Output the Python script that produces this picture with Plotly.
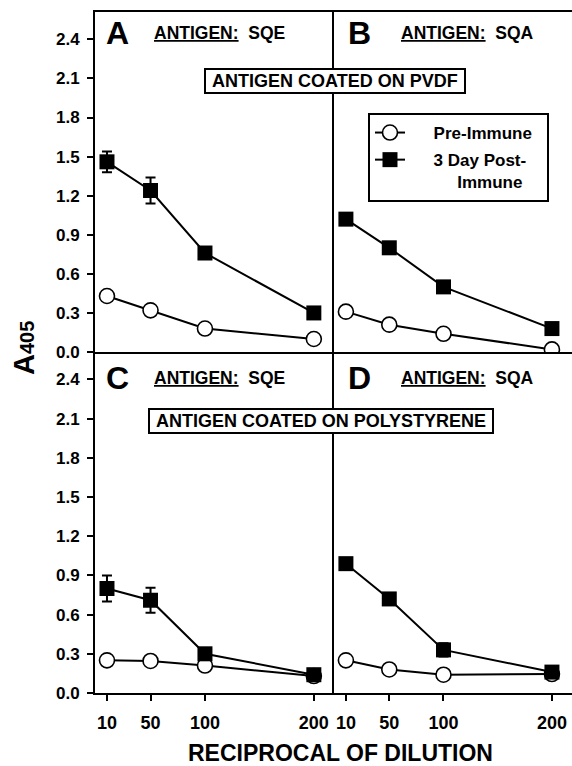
import plotly.graph_objects as go

# ---------------- data ----------------
dilutions = [10, 50, 100, 200]
tick_labels_x = ["10", "50", "100", "200"]
y_ticks = [0.0, 0.3, 0.6, 0.9, 1.2, 1.5, 1.8, 2.1, 2.4]

A_pre = [0.43, 0.32, 0.18, 0.10]
A_post = [1.46, 1.24, 0.76, 0.30]
A_post_err = [0.08, 0.10, 0.04, 0.02]

B_pre = [0.31, 0.21, 0.14, 0.02]
B_post = [1.02, 0.80, 0.50, 0.18]
B_post_err = [0.02, 0.02, 0.03, 0.02]

C_pre = [0.25, 0.245, 0.21, 0.13]
C_post = [0.80, 0.71, 0.30, 0.14]
C_post_err = [0.10, 0.095, 0.03, 0.02]

D_pre = [0.25, 0.18, 0.14, 0.145]
D_post = [0.99, 0.72, 0.33, 0.16]
D_post_err = [0.04, 0.02, 0.05, 0.02]

NB = "\u00a0"
series_pre_name = NB * 5 + "Pre-Immune" + NB * 2
series_post_name = NB * 5 + "3 Day Post-<br>" + NB * 10 + "Immune"

FONT = "Liberation Sans, Arial, Helvetica, sans-serif"

fig = go.Figure()

panels = [
    ("x", "y", A_pre, A_post, A_post_err, False),
    ("x2", "y2", B_pre, B_post, B_post_err, True),
    ("x3", "y3", C_pre, C_post, C_post_err, False),
    ("x4", "y4", D_pre, D_post, D_post_err, False),
]

for xa, ya, pre, post, err, show in panels:
    fig.add_trace(go.Scatter(
        x=dilutions, y=pre, xaxis=xa, yaxis=ya, mode="lines+markers",
        name=series_pre_name, legendgroup="pre", showlegend=show,
        line=dict(color="black", width=2),
        marker=dict(symbol="circle", size=15, color="white",
                    line=dict(color="black", width=1.6)),
    ))
    fig.add_trace(go.Scatter(
        x=dilutions, y=post, xaxis=xa, yaxis=ya, mode="lines+markers",
        name=series_post_name, legendgroup="post", showlegend=show,
        line=dict(color="black", width=2),
        marker=dict(symbol="square", size=15, color="black",
                    line=dict(color="black", width=0)),
        error_y=dict(type="data", array=err, visible=True, color="black",
                     thickness=2, width=5),
    ))

XD_L = [0, 0.501]
XD_R = [0.501, 1]
YD_T = [0.5007, 1]
YD_B = [0, 0.5007]
XR = [-1, 218.5]
YR = [0, 2.61]

base_x = dict(range=XR, showgrid=False, zeroline=False, showline=True,
              linecolor="black", linewidth=2, fixedrange=True)
base_y = dict(range=YR, showgrid=False, zeroline=False, showline=True,
              linecolor="black", linewidth=2, fixedrange=True)

ytick_style = dict(ticks="outside", ticklen=6, tickwidth=2, tickcolor="black",
                   tickvals=y_ticks, ticktext=[f"{v:.1f}" for v in y_ticks],
                   tickfont=dict(family=FONT, size=17, color="black", weight="bold"),
                   ticklabelstandoff=4)
yno = dict(ticks="", showticklabels=False)
xtick_style = dict(ticks="outside", ticklen=6, tickwidth=2, tickcolor="black",
                   tickvals=dilutions, ticktext=tick_labels_x,
                   tickfont=dict(family=FONT, size=18, color="black", weight="bold"),
                   ticklabelstandoff=6)
xno = dict(ticks="", showticklabels=False)

fig.update_layout(
    xaxis=dict(domain=XD_L, anchor="y", mirror=True, **base_x, **xno),
    yaxis=dict(domain=YD_T, anchor="x", **base_y, **ytick_style),
    xaxis2=dict(domain=XD_R, anchor="y2", mirror=True, **base_x, **xno),
    yaxis2=dict(domain=YD_T, anchor="x2", **base_y, **yno),
    xaxis3=dict(domain=XD_L, anchor="y3", **base_x, **xtick_style),
    yaxis3=dict(domain=YD_B, anchor="x3", **base_y, **ytick_style),
    xaxis4=dict(domain=XD_R, anchor="y4", **base_x, **xtick_style),
    yaxis4=dict(domain=YD_B, anchor="x4", **base_y, **yno),
)

def ann(text, x, y, size, xanchor="center", yanchor="middle", **kw):
    fig.add_annotation(text=text, x=x, y=y, xref="paper", yref="paper",
                       xanchor=xanchor, yanchor=yanchor, showarrow=False,
                       font=dict(family=FONT, size=size, color="black"), **kw)

# panel letters
ann("<b>A</b>", 0.0472, 0.9692, 32)
ann("<b>B</b>", 0.5545, 0.9692, 32)
ann("<b>C</b>", 0.0472, 0.4626, 32)
ann("<b>D</b>", 0.5545, 0.4626, 32)

# antigen labels
ann("<b><u>ANTIGEN:</u>" + NB * 2 + "SQE</b>", 0.1195, 0.9692, 17.5, xanchor="left")
ann("<b><u>ANTIGEN:</u>" + NB * 2 + "SQA</b>", 0.6373, 0.9692, 17.5, xanchor="left")
ann("<b><u>ANTIGEN:</u>" + NB * 2 + "SQE</b>", 0.1195, 0.4626, 17.5, xanchor="left")
ann("<b><u>ANTIGEN:</u>" + NB * 2 + "SQA</b>", 0.6373, 0.4626, 17.5, xanchor="left")

# boxed labels
ann("<b>" + NB + "ANTIGEN COATED ON PVDF" + NB + "</b>", 0.5021, 0.8987, 18,
    bordercolor="black", borderwidth=2, borderpad=1, bgcolor="white")
ann("<b>" + NB + "ANTIGEN COATED ON POLYSTYRENE" + NB + "</b>", 0.4738, 0.3994, 18,
    bordercolor="black", borderwidth=2, borderpad=1, bgcolor="white")

# axis titles
ann("<b>A<span style='font-size:20px'>405</span></b>", -0.1488, 0.5066, 29,
    textangle=-90)
ann("<b>RECIPROCAL OF DILUTION</b>", 0.5157, -0.0881, 23)

fig.update_layout(
    width=572, height=766,
    margin=dict(l=95, r=0, t=12, b=73),
    paper_bgcolor="white", plot_bgcolor="white",
    font=dict(family=FONT, color="black"),
    showlegend=True,
    legend=dict(x=0.5723, y=0.8517, xanchor="left", yanchor="top",
                xref="paper", yref="paper",
                bgcolor="white", bordercolor="black", borderwidth=2,
                font=dict(family=FONT, size=17, color="black", weight="bold"),
                valign="top", itemwidth=30, tracegroupgap=2,
                itemclick=False, itemdoubleclick=False),
)

fig.write_html(
    "out.html",
    config={"displayModeBar": False, "staticPlot": True},
    post_script="document.body.style.margin='0';document.body.style.overflow='hidden';",
)
